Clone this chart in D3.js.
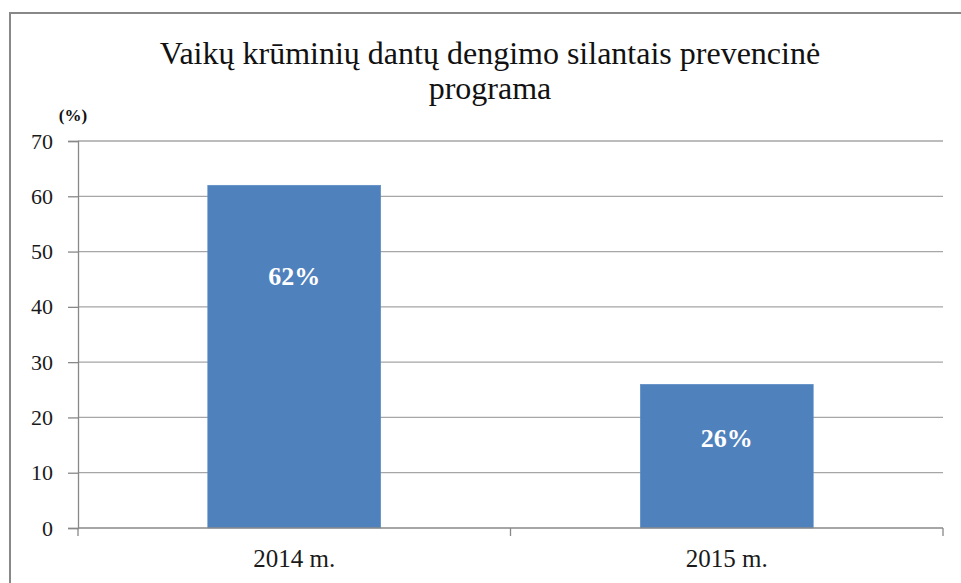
<!DOCTYPE html>
<html><head><meta charset="utf-8">
<script src="https://cdn.jsdelivr.net/npm/d3@7"></script>
<style>body{margin:0;background:#fff}svg{display:block}</style>
</head><body>
<script>
const categories = ["2014 m.", "2015 m."];
const values = [62, 26];
const valueLabels = ["62%", "26%"];
const labelAt = [45.6, 16.3];
const yTicks = [0, 10, 20, 30, 40, 50, 60, 70];
const titleLines = ["Vaikų krūminių dantų dengimo silantais prevencinė", "programa"];
const unitLabel = "(%)";

const W = 961, H = 583;
const m = {left: 78, right: 18, top: 141, bottom: 55};
const svg = d3.select("body").append("svg").attr("width", W).attr("height", H);
const font = "'Liberation Serif','Times New Roman',serif";

// outer frame (cropped at right and bottom)
svg.append("rect").attr("x", 10).attr("y", 13).attr("width", W + 20).attr("height", H + 20)
  .attr("fill", "none").attr("stroke", "#888").attr("stroke-width", 2);

const x = d3.scaleBand().domain(categories).range([m.left, W - m.right]).paddingInner(0.6).paddingOuter(0.3);
const y = d3.scaleLinear().domain([0, 70]).range([H - m.bottom, m.top]);

// gridlines
svg.append("g").selectAll("line").data(yTicks.filter(d => d > 0)).join("line")
  .attr("x1", m.left).attr("x2", W - m.right)
  .attr("y1", d => y(d)).attr("y2", d => y(d))
  .attr("stroke", "#a6a6a6").attr("stroke-width", 1.3);

// bars
svg.append("g").selectAll("rect").data(values).join("rect")
  .attr("x", (d, i) => x(categories[i])).attr("width", x.bandwidth())
  .attr("y", d => y(d)).attr("height", d => y(0) - y(d))
  .attr("fill", "#4f81bd").attr("stroke", "#5b8cc6").attr("stroke-width", 0.5);

// y axis
const yAxis = svg.append("g").attr("transform", `translate(${m.left},0)`)
  .call(d3.axisLeft(y).tickValues(yTicks).tickSize(10).tickPadding(15));
yAxis.select(".domain").attr("stroke", "#888").attr("stroke-width", 1.3);
yAxis.selectAll(".tick line").attr("stroke", "#888").attr("stroke-width", 1.3);
yAxis.selectAll("text").attr("font-family", font).attr("font-size", 22).attr("fill", "#1a1a1a");

// x axis
const xAxisG = svg.append("g").attr("transform", `translate(0,${y(0)})`);
xAxisG.append("line").attr("x1", m.left).attr("x2", W - m.right).attr("stroke", "#888").attr("stroke-width", 1.3);
const step = (W - m.right - m.left) / categories.length;
xAxisG.selectAll("line.t").data(d3.range(categories.length + 1)).join("line").attr("class", "t")
  .attr("x1", i => m.left + i * step).attr("x2", i => m.left + i * step)
  .attr("y1", 0).attr("y2", 8).attr("stroke", "#888").attr("stroke-width", 1.3);
xAxisG.selectAll("text").data(categories).join("text")
  .attr("x", d => x(d) + x.bandwidth() / 2).attr("y", 39)
  .attr("text-anchor", "middle").attr("font-family", font).attr("font-size", 25).attr("fill", "#1a1a1a")
  .text(d => d);

// value labels
svg.append("g").selectAll("text").data(values).join("text")
  .attr("x", (d, i) => x(categories[i]) + x.bandwidth() / 2)
  .attr("y", (d, i) => y(labelAt[i]))
  .attr("dy", "0.35em").attr("text-anchor", "middle")
  .attr("font-family", font).attr("font-weight", "bold").attr("font-size", 26).attr("fill", "#fff")
  .text((d, i) => valueLabels[i]);

// title
svg.append("text").attr("text-anchor", "middle").attr("font-family", font).attr("font-size", 32).attr("fill", "#111")
  .selectAll("tspan").data(titleLines).join("tspan")
  .attr("x", 490).attr("y", (d, i) => 64 + i * 35).text(d => d);

// unit label
svg.append("text").attr("x", 73).attr("y", 121).attr("text-anchor", "middle")
  .attr("font-family", font).attr("font-weight", "bold").attr("font-size", 17).attr("fill", "#111")
  .text(unitLabel);
</script>
</body></html>
